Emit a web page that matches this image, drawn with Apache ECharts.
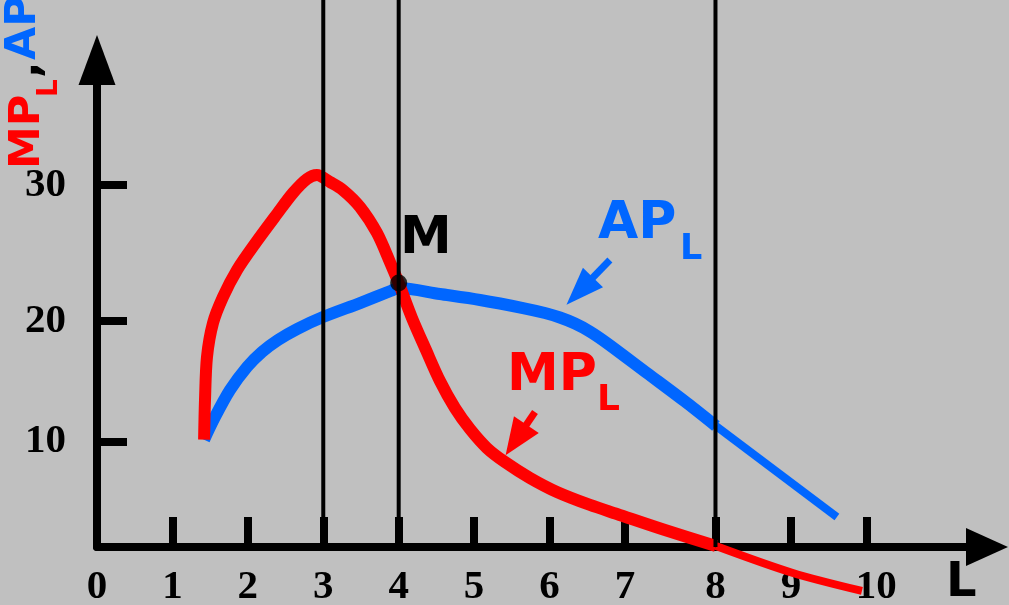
<!DOCTYPE html>
<html>
<head>
<meta charset="utf-8">
<script src="https://cdn.jsdelivr.net/npm/echarts@6/dist/echarts.min.js"></script>
<style>
html,body{margin:0;padding:0;background:#c0c0c0;}
#chart{width:1009px;height:605px;}
</style>
</head>
<body>
<div id="chart"></div>
<script>
// ---- data (axis units as drawn in the original figure) ----
const xTickPos    = [1, 2, 3, 4, 5, 6, 7, 8.2, 9.2, 10.2];
const xLabelPos   = [0, 1, 2, 3, 4, 5, 6, 7, 8.2, 9.2, 10.33];
const xTickLabels = ['0', '1', '2', '3', '4', '5', '6', '7', '8', '9', '10'];
const yTickPos    = [9.34, 20, 32.04];
const yTickLabels = ['10', '20', '30'];
const guideX      = [3, 4, 8.2];

const apThick = [[1.42, 9.5], [1.564, 11.5], [1.763, 13.89], [1.989, 15.93], [2.187, 17.26],
  [2.400, 18.32], [2.651, 19.29], [2.996, 20.35], [3.487, 21.59], [3.9, 22.68], [4.0, 22.92],
  [4.547, 22.39], [5.078, 21.86], [5.648, 21.15], [5.939, 20.71], [6.138, 20.31], [6.337, 19.78],
  [6.536, 19.07], [6.761, 18.05], [7.291, 15.40], [7.822, 12.74], [8.206, 10.71]];
const apThin = [[8.206, 10.71], [9.81, 2.65]];

const mpThick = [[1.42, 9.5], [1.432, 13.01], [1.458, 16.81], [1.538, 19.82], [1.670, 22.12],
  [1.856, 24.51], [2.121, 27.08], [2.386, 29.47], [2.598, 31.33], [2.784, 32.57], [2.916, 32.92],
  [3.089, 32.30], [3.261, 31.59], [3.487, 30.09], [3.712, 27.79], [3.884, 25.22], [4.0, 23.36],
  [4.176, 20.27], [4.362, 17.43], [4.547, 14.69], [4.746, 12.30], [4.945, 10.44], [5.170, 8.76],
  [5.409, 7.52], [5.740, 6.11], [6.098, 4.87], [6.536, 3.72], [6.894, 2.92], [7.530, 1.50],
  [8.206, 0.09]];
const mpThin = [[8.206, 0.09], [9.227, -2.30], [10.142, -3.89]];

const pointM  = [4.0, 23.36];
const apArrow = [[6.80, 25.40], [6.40, 22.65]];
const mpArrow = [[5.807, 11.95], [5.555, 9.47]];

const xMax = 11.8;
const yMax = 43.1;

const RED = '#ff0000';
const BLUE = '#0066ff';

function lbl(pos, labels) {
  return function (v) {
    for (let i = 0; i < pos.length; i++) {
      if (Math.abs(pos[i] - v) < 1e-6) return labels[i];
    }
    return '';
  };
}

const chart = echarts.init(document.getElementById('chart'), null, {renderer: 'canvas'});

const series = [];
guideX.forEach(function (gx) {
  series.push({
    type: 'line', xAxisIndex: 1, yAxisIndex: 1, z: 3,
    data: [[gx, 0], [gx, 1]], showSymbol: false, silent: true,
    lineStyle: {color: '#000', width: 4}
  });
});
series.push({
  type: 'line', data: apThick, smooth: 0.3, showSymbol: false, z: 2, clip: false,
  lineStyle: {color: BLUE, width: 12, cap: 'butt', join: 'round'},
  markLine: {
    silent: true, animation: false, z: 4,
    symbol: ['none', 'triangle'],
    label: {show: false},
    lineStyle: {color: BLUE, width: 7, type: 'solid'},
    emphasis: {disabled: true},
    data: [[{coord: apArrow[0], symbol: 'none'}, {coord: apArrow[1], symbol: 'triangle', symbolSize: [28, 38]}]]
  }
});
series.push({
  type: 'line', data: apThin, smooth: false, showSymbol: false, z: 2, clip: false,
  lineStyle: {color: BLUE, width: 8, cap: 'butt'}
});
series.push({
  type: 'line', data: mpThick, smooth: 0.3, showSymbol: false, z: 2, clip: false,
  lineStyle: {color: RED, width: 12, cap: 'butt', join: 'round'},
  markLine: {
    silent: true, animation: false, z: 4,
    symbol: ['none', 'triangle'],
    label: {show: false},
    lineStyle: {color: RED, width: 7, type: 'solid'},
    emphasis: {disabled: true},
    data: [[{coord: mpArrow[0], symbol: 'none'}, {coord: mpArrow[1], symbol: 'triangle', symbolSize: [30, 37]}]]
  }
});
series.push({
  type: 'line', data: mpThin, smooth: 0.3, showSymbol: false, z: 2, clip: false,
  lineStyle: {color: RED, width: 8, cap: 'butt'}
});
series.push({
  type: 'scatter', data: [pointM], symbol: 'circle', symbolSize: 17, z: 5, silent: true,
  itemStyle: {color: '#000'}
});

const option = {
  backgroundColor: '#c0c0c0',
  animation: false,
  grid: [
    {left: 97, right: 22, top: 60, bottom: 58, containLabel: false, outerBoundsMode: 'none'},
    {left: 97, right: 22, top: 0, bottom: 58, containLabel: false, outerBoundsMode: 'none'}
  ],
  xAxis: [
    {
      type: 'value', gridIndex: 0, min: 0, max: xMax,
      axisLine: {show: true, onZero: false, symbol: ['none', 'triangle'], symbolSize: [38, 42],
        lineStyle: {color: '#000', width: 8}},
      axisTick: {show: true, inside: true, length: 30, customValues: xTickPos,
        lineStyle: {color: '#000', width: 8}},
      axisLabel: {show: true, margin: 20, color: '#000', fontFamily: '"Liberation Serif", "Times New Roman", serif',
        fontWeight: 'bold', fontSize: 41, customValues: xLabelPos, formatter: lbl(xLabelPos, xTickLabels)},
      splitLine: {show: false}
    },
    {type: 'value', gridIndex: 1, min: 0, max: xMax, show: false}
  ],
  yAxis: [
    {
      type: 'value', gridIndex: 0, min: 0, max: yMax,
      axisLine: {show: true, onZero: false, symbol: ['none', 'triangle'], symbolSize: [37, 50],
        lineStyle: {color: '#000', width: 8}},
      axisTick: {show: true, inside: true, length: 30, customValues: yTickPos,
        lineStyle: {color: '#000', width: 8}},
      axisLabel: {show: true, margin: 31, color: '#000', fontFamily: '"Liberation Serif", "Times New Roman", serif',
        fontWeight: 'bold', fontSize: 41, customValues: yTickPos, formatter: lbl(yTickPos, yTickLabels)},
      splitLine: {show: false}
    },
    {type: 'value', gridIndex: 1, min: 0, max: 1, show: false}
  ],
  graphic: [
    {
      type: 'group', x: 45, y: 165, rotation: Math.PI / 2, silent: true,
      children: [
        {type: 'text', x: -4, y: -17, style: {text: 'MP', fill: RED, font: 'bold 43px "DejaVu Sans"', align: 'left', verticalAlign: 'middle'}},
        {type: 'text', x: 68, y: 5, style: {text: 'L', fill: RED, font: 'bold 28px "DejaVu Sans"', align: 'left', verticalAlign: 'middle'}},
        {type: 'text', x: 87, y: -17, style: {text: ',', fill: '#000', font: 'bold 43px "DejaVu Sans"', align: 'left', verticalAlign: 'middle'}},
        {type: 'text', x: 105, y: -21, style: {text: 'AP', fill: BLUE, font: 'bold 43px "DejaVu Sans"', align: 'left', verticalAlign: 'middle'}},
        {type: 'text', x: 180, y: 1, style: {text: 'L', fill: BLUE, font: 'bold 28px "DejaVu Sans"', align: 'left', verticalAlign: 'middle'}}
      ]
    },
    {type: 'text', x: 400, y: 239, silent: true, z: 10, style: {text: 'M', fill: '#000', font: 'bold 52px "DejaVu Sans"', align: 'left', verticalAlign: 'middle'}},
    {type: 'text', x: 598, y: 224, silent: true, z: 10, style: {text: 'AP', fill: BLUE, font: 'bold 52px "DejaVu Sans"', align: 'left', verticalAlign: 'middle'}},
    {type: 'text', x: 680, y: 250, silent: true, z: 10, style: {text: 'L', fill: BLUE, font: 'bold 35px "DejaVu Sans"', align: 'left', verticalAlign: 'middle'}},
    {type: 'text', x: 507, y: 376, silent: true, z: 10, style: {text: 'MP', fill: RED, font: 'bold 52px "DejaVu Sans"', align: 'left', verticalAlign: 'middle'}},
    {type: 'text', x: 597, y: 401, silent: true, z: 10, style: {text: 'L', fill: RED, font: 'bold 36px "DejaVu Sans"', align: 'left', verticalAlign: 'middle'}},
    {type: 'text', x: 946, y: 584, silent: true, z: 10, style: {text: 'L', fill: '#000', font: 'bold 48px "DejaVu Sans"', align: 'left', verticalAlign: 'middle'}}
  ],
  series: series
};
chart.setOption(option);
</script>
</body>
</html>
